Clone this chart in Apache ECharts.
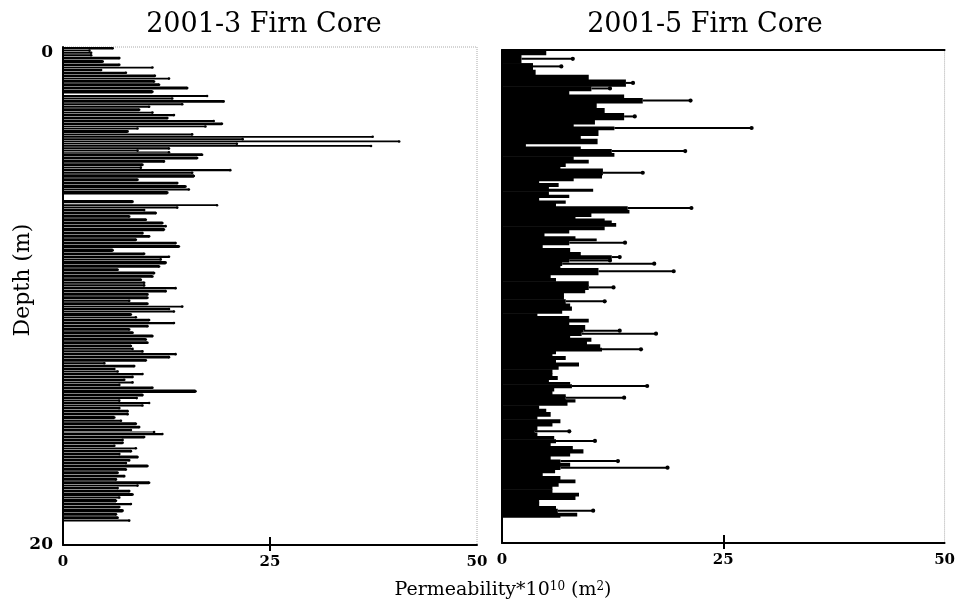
<!DOCTYPE html>
<html><head><meta charset="utf-8">
<script src="https://cdn.jsdelivr.net/npm/echarts@6/dist/echarts.min.js"></script>
<style>html,body{margin:0;padding:0;background:#fff}#c{width:958px;height:603px}</style>
</head><body><div id="c"></div>
<script>
// ---- Data ----
const titles = ['2001-3 Firn Core', '2001-5 Firn Core'];
const xTicks = [0, 25, 50];
const yTicks = [0, 20];
// 2001-3 core: depth (m) of each sample, permeability*1e10 (m^2)
const depth3 = [0.00,0.12,0.19,0.29,0.39,0.52,0.66,0.79,0.88,0.99,1.10,1.23,1.33,1.46,1.59,1.73,1.93,2.03,2.13,2.26,2.36,2.46,2.60,2.69,2.80,2.93,3.03,3.16,3.24,3.33,3.47,3.57,3.66,3.76,3.85,3.94,4.03,4.14,4.20,4.27,4.40,4.54,4.67,4.81,4.90,5.01,5.11,5.27,5.41,5.54,5.68,5.78,6.14,6.32,6.41,6.51,6.61,6.75,6.88,7.01,7.15,7.26,7.42,7.55,7.68,7.82,7.95,8.09,8.25,8.38,8.49,8.59,8.76,8.89,9.02,9.16,9.29,9.42,9.53,9.64,9.75,9.88,10.01,10.15,10.25,10.39,10.48,10.58,10.68,10.82,10.91,11.04,11.15,11.29,11.42,11.55,11.69,11.82,11.95,12.09,12.18,12.29,12.40,12.53,12.66,12.76,12.89,12.99,13.09,13.20,13.32,13.43,13.53,13.63,13.76,13.92,14.06,14.16,14.26,14.36,14.46,14.57,14.70,14.81,14.97,15.07,15.21,15.34,15.44,15.50,15.61,15.74,15.84,15.97,16.08,16.17,16.31,16.41,16.55,16.67,16.77,16.91,17.04,17.18,17.31,17.44,17.58,17.67,17.78,17.91,18.05,18.15,18.31,18.42,18.55,18.71,18.85,18.98];
const perm3 = [6.0,3.2,3.4,3.4,6.8,4.8,6.8,10.8,4.6,7.6,11.1,12.8,11.0,11.6,15.0,10.8,17.4,13.2,19.4,14.4,10.4,9.2,10.8,13.4,12.6,18.2,19.2,17.2,9.0,7.8,15.6,37.4,21.7,40.6,21.0,37.2,12.8,9.0,12.8,16.8,16.2,12.2,9.6,9.4,20.2,15.6,15.8,9.0,13.8,14.8,15.2,12.6,8.4,18.6,13.8,9.8,11.2,8.0,10.0,12.0,12.4,12.2,9.6,10.4,8.8,13.6,14.0,6.0,9.8,12.8,11.8,12.4,11.6,6.6,11.0,10.8,9.4,9.8,9.8,13.6,12.4,10.2,10.2,8.0,10.2,14.4,12.8,13.4,8.2,8.8,10.4,13.4,10.2,8.0,8.4,10.8,10.0,10.2,8.2,8.4,9.6,13.6,12.8,10.0,5.0,8.6,6.2,6.6,9.6,8.4,7.4,8.4,6.8,10.8,16.0,9.6,8.9,6.8,10.4,9.6,6.8,7.8,7.8,6.2,7.0,8.8,9.2,8.2,11.0,12.0,9.8,7.2,7.2,6.2,8.8,8.2,6.8,9.0,8.0,7.6,10.2,7.6,6.6,7.4,6.4,10.4,9.0,6.6,8.0,8.4,6.8,6.4,8.2,6.8,7.2,6.4,6.6,8.0];
// 2001-5 core: depth (m), permeability bar, maximum (whisker end; null = none)
const depth5 = [0.00,0.19,0.53,0.80,1.00,1.20,1.47,1.65,1.81,1.95,2.15,2.35,2.56,2.83,3.00,3.10,3.23,3.46,3.60,3.80,3.91,4.02,4.18,4.31,4.45,4.58,4.72,4.81,4.90,5.06,5.19,5.30,5.40,5.53,5.63,5.73,5.87,5.98,6.11,6.21,6.34,6.48,6.61,6.75,6.84,6.92,7.02,7.15,7.29,7.42,7.56,7.65,7.73,7.90,8.03,8.19,8.33,8.47,8.60,8.74,8.84,9.11,9.25,9.38,9.55,9.71,9.84,9.98,10.11,10.28,10.41,10.55,10.68,10.79,10.90,11.03,11.16,11.33,11.44,11.58,11.67,11.81,11.94,12.08,12.21,12.32,12.41,12.55,12.68,12.82,12.95,13.12,13.23,13.36,13.47,13.56,13.70,13.83,13.97,14.04,14.17,14.28,14.41,14.55,14.69,14.85,14.98,15.12,15.25,15.42,15.52,15.66,15.79,15.93,16.06,16.20,16.34,16.47,16.61,16.74,16.88,17.01,17.15,17.28,17.42,17.55,17.69,17.82,17.96,18.09,18.23,18.36,18.50,18.61,18.77,18.90];
const perm5 = [5.0,2.2,3.5,3.8,9.8,14.0,10.1,7.6,13.8,15.9,10.7,11.6,13.8,10.5,8.1,12.7,10.9,8.9,10.8,2.7,8.9,12.4,12.7,8.1,9.8,7.2,6.6,11.4,11.4,11.3,8.1,4.2,6.4,5.3,10.3,5.3,7.6,4.2,7.2,6.1,14.2,14.4,10.1,8.3,11.6,12.4,12.9,11.6,7.6,4.8,8.3,10.7,7.6,4.6,7.7,8.9,12.4,7.6,6.8,6.6,10.9,5.5,6.1,9.8,9.8,9.4,7.0,7.0,7.2,7.7,7.9,6.8,4.0,7.6,9.8,7.6,9.4,9.2,9.0,7.7,10.1,9.6,11.1,11.3,6.1,5.7,7.2,6.1,8.7,6.4,5.7,5.7,6.3,5.3,7.7,7.9,5.9,5.7,7.2,7.2,8.3,7.4,4.2,5.0,5.5,4.0,6.6,5.7,4.0,3.7,4.0,5.9,6.1,5.5,8.0,9.2,7.7,5.5,6.6,7.7,6.6,6.0,4.6,6.6,8.3,6.4,5.7,5.7,8.7,8.3,4.2,4.2,6.1,6.3,8.5,6.6];
const max5 = [null,8.0,6.7,null,null,14.8,12.2,null,null,21.3,null,null,15.0,null,null,28.2,null,null,null,null,null,20.7,null,null,null,null,null,null,15.9,null,null,null,null,null,null,null,null,null,null,null,21.4,null,null,null,null,null,null,null,null,null,null,null,13.9,null,null,null,13.3,12.2,17.2,null,19.4,null,null,null,12.6,null,null,null,11.6,null,null,null,null,null,null,null,null,13.3,17.4,null,null,null,null,15.7,null,null,null,null,null,null,null,null,null,null,null,16.4,null,null,null,13.8,null,null,null,null,null,null,null,null,null,7.6,null,null,10.5,null,null,null,null,null,13.1,null,18.7,null,null,null,null,null,null,null,null,null,null,null,null,10.3,null,null];

function rows(depths, vals, maxs, lastThick, cap) {
  return depths.map((d, i) => {
    let nd = i < depths.length - 1 ? depths[i + 1] : d + lastThick;
    if (nd - d > cap) nd = d + cap;
    const m = maxs ? maxs[i] : null;
    return [d, vals[i], nd, m == null ? '-' : m];
  });
}
const data3 = rows(depth3, perm3, null, 0.1, 0.16);
const data5 = rows(depth5, perm5, max5, 0.05, 1);

function makeRender(gap, dotR, whiskerW) {
  return function (params, api) {
    const d = api.value(0), v = api.value(1), d2 = api.value(2), m = api.value(3);
    const p0 = api.coord([0, d]);
    const p1 = api.coord([v, d2]);
    const h = Math.max(1, p1[1] - p0[1] - gap);
    const children = [{
      type: 'rect',
      shape: { x: p0[0], y: p0[1], width: p1[0] - p0[0], height: h + (gap === 0 ? 0.6 : 0) },
      style: { fill: '#000' }
    }];
    const ym = p0[1] + h / 2;
    if (gap > 0) {
      children.push({ type: 'circle', shape: { cx: p1[0], cy: ym, r: dotR }, style: { fill: '#000' } });
    }
    if (!isNaN(m) && m > v) {
      const pm = api.coord([m, d]);
      children.push({ type: 'line', shape: { x1: p1[0], y1: ym, x2: pm[0], y2: ym }, style: { stroke: '#000', lineWidth: whiskerW } });
      children.push({ type: 'circle', shape: { cx: pm[0], cy: ym, r: dotR + 0.5 }, style: { fill: '#000' } });
    }
    return { type: 'group', children };
  };
}

const serif = 'DejaVu Serif';
const lineBlack = { show: true, onZero: false, lineStyle: { color: '#000', width: 2 } };
const noLine = { show: false, onZero: false };
const xLabel = { show: true, fontFamily: serif, fontWeight: 'bold', fontSize: 15, color: '#000', margin: 10,
  customValues: xTicks };
const tickIn = { show: true, inside: true, length: 8, customValues: [25], lineStyle: { color: '#000', width: 2 } };
const tickOut = { show: true, inside: false, length: 6, customValues: [25], lineStyle: { color: '#000', width: 2 } };

const chart = echarts.init(document.getElementById('c'), null, { renderer: 'canvas' });
chart.setOption({
  animation: false,
  backgroundColor: '#fff',
  grid: [
    { left: 63, top: 47, width: 414, height: 498, show: true, borderColor: '#aaa', borderWidth: 1, borderType: 'dotted' },
    { left: 502, top: 50, width: 450, height: 493, show: true, borderColor: '#aaa', borderWidth: 1, borderType: 'dotted' }
  ],
  xAxis: [
    { gridIndex: 0, type: 'value', min: 0, max: 50, interval: 25, position: 'bottom', axisLine: lineBlack,
      axisTick: tickIn, axisLabel: xLabel, splitLine: { show: false } },
    { gridIndex: 1, type: 'value', min: 0, max: 50, interval: 25, position: 'bottom', axisLine: lineBlack,
      axisTick: tickIn, axisLabel: xLabel, splitLine: { show: false } },
    { gridIndex: 1, type: 'value', min: 0, max: 50, interval: 25, position: 'top', axisLine: lineBlack,
      axisTick: { show: false }, axisLabel: { show: false }, splitLine: { show: false } },
    { gridIndex: 0, type: 'value', min: 0, max: 50, interval: 25, position: 'bottom', offset: 0, axisLine: noLine,
      axisTick: tickOut, axisLabel: { show: false }, splitLine: { show: false } },
    { gridIndex: 1, type: 'value', min: 0, max: 50, interval: 25, position: 'bottom', offset: 0, axisLine: noLine,
      axisTick: tickOut, axisLabel: { show: false }, splitLine: { show: false } }
  ],
  yAxis: [
    { gridIndex: 0, type: 'value', min: 0, max: 20, interval: 20, inverse: true, axisLine: lineBlack,
      axisTick: { show: false }, splitLine: { show: false },
      axisLabel: { show: true, color: '#000', fontFamily: serif, fontWeight: 'bold', fontSize: 17, margin: 10,
        formatter: v => (v === yTicks[0] ? '{t|' + v + '}' : '{b|' + v + '}'),
        rich: { t: { fontFamily: serif, fontWeight: 'bold', fontSize: 17, color: '#000', padding: [12, 0, 0, 0] },
                b: { fontFamily: serif, fontWeight: 'bold', fontSize: 17, color: '#000' } } } },
    { gridIndex: 1, type: 'value', min: 0, max: 20, interval: 20, inverse: true, axisLine: lineBlack,
      axisTick: { show: false }, splitLine: { show: false }, axisLabel: { show: false } }
  ],
  series: [
    { type: 'custom', name: titles[0], xAxisIndex: 0, yAxisIndex: 0, data: data3,
      encode: { x: 1, y: 0 }, renderItem: makeRender(0.5, 1.3, 1) },
    { type: 'custom', name: titles[1], xAxisIndex: 1, yAxisIndex: 1, data: data5,
      encode: { x: 1, y: 0 }, renderItem: makeRender(0, 1.6, 2) }
  ],
  graphic: [
    { type: 'text', x: 264, y: 25, style: { text: titles[0], fontFamily: serif, fontSize: 27, fill: '#000', align: 'center', verticalAlign: 'middle' } },
    { type: 'text', x: 705, y: 25, style: { text: titles[1], fontFamily: serif, fontSize: 27, fill: '#000', align: 'center', verticalAlign: 'middle' } },
    { type: 'text', x: 23, y: 280, rotation: Math.PI / 2, style: { text: 'Depth (m)', fontFamily: serif, fontSize: 22, fill: '#000', align: 'center', verticalAlign: 'middle' } },
    { type: 'text', x: 503, y: 590, style: {
        text: '{a|Permeability*10}{s|10}{a| (m}{s|2}{a|)}', align: 'center', verticalAlign: 'middle',
        rich: { a: { fontFamily: serif, fontSize: 19, fill: '#000' },
                s: { fontFamily: serif, fontSize: 12, fill: '#000', verticalAlign: 'top' } } } }
  ]
});
</script>
</body></html>
